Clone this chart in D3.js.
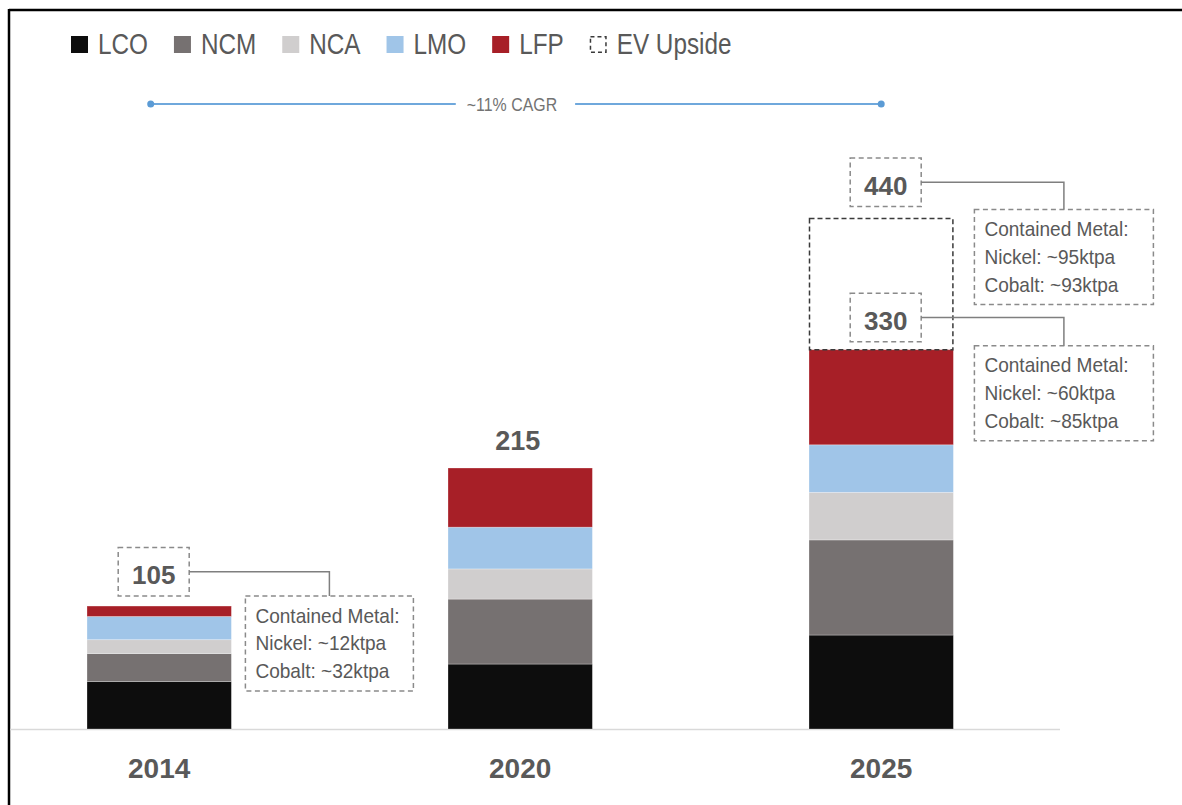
<!DOCTYPE html>
<html>
<head>
<meta charset="utf-8">
<script src="https://cdn.jsdelivr.net/npm/d3@7"></script>
<style>
  html, body { margin: 0; padding: 0; background: #ffffff; }
  svg { display: block; }
</style>
</head>
<body>
<svg id="chart" width="1182" height="805"></svg>
<script>
// ---------- data ----------
const years = ["2014", "2020", "2025"];
const seriesNames = ["LCO", "NCM", "NCA", "LMO", "LFP"];
const LCO = [41, 56, 81];
const NCM = [24, 56, 82];
const NCA = [12, 26, 41];
const LMO = [20, 36, 41];
const LFP = [9, 51, 82];
const evUpside = [0, 0, 113];
const totalLabels = ["105", "215", "330"];
const upsideLabel = "440";
const metal2014 = ["Contained Metal:", "Nickel: ~12ktpa", "Cobalt: ~32ktpa"];
const metal2025 = ["Contained Metal:", "Nickel: ~60ktpa", "Cobalt: ~85ktpa"];
const metalUpside = ["Contained Metal:", "Nickel: ~95ktpa", "Cobalt: ~93ktpa"];
const cagrLabel = "~11% CAGR";
const legendNames = ["LCO", "NCM", "NCA", "LMO", "LFP", "EV Upside"];

const colors = { LCO: "#0d0d0d", NCM: "#767171", NCA: "#d0cece", LMO: "#a0c5e8", LFP: "#a71f27" };
const SANS = "'Liberation Sans', Arial, sans-serif";
const TXT = "#595959";

const svg = d3.select("#chart");
const W = 1182, H = 805;

// condensed text: Liberation Sans squeezed horizontally (Arial Narrow look)
function ntext(parent, x, y, str, size, sx, opts = {}) {
  const g = parent.append("g").attr("transform", `translate(${x},${y}) scale(${sx},1)`);
  const t = g.append("text").attr("x", 0).attr("y", 0)
    .attr("font-family", SANS).attr("font-size", size)
    .attr("fill", opts.fill || TXT)
    .attr("font-weight", opts.weight || "normal")
    .attr("text-anchor", opts.anchor || "start")
    .text(str);
  return t.node().getComputedTextLength() * sx;
}

const seriesVals = { LCO, NCM, NCA, LMO, LFP };
const table = years.map((yr, i) => {
  const row = { year: yr };
  seriesNames.forEach(s => row[s] = seriesVals[s][i]);
  row.upside = evUpside[i];
  return row;
});

const x = d3.scaleBand().domain(years).range([87, 953.4]).paddingInner(0.6).paddingOuter(0);
const y = d3.scaleLinear().domain([0, 440]).range([729, 218.6]);
const bw = x.bandwidth();

// frame (top + left edges)
svg.append("line").attr("x1", 9).attr("x2", W + 5).attr("y1", 10).attr("y2", 10)
  .attr("stroke", "#000").attr("stroke-width", 2.5);
svg.append("line").attr("x1", 9).attr("x2", 9).attr("y1", 9).attr("y2", H + 5)
  .attr("stroke", "#000").attr("stroke-width", 2.5);

// baseline axis
svg.append("line").attr("x1", 10).attr("x2", 1060).attr("y1", y(0) + 0.5).attr("y2", y(0) + 0.5)
  .attr("stroke", "#d9d9d9").attr("stroke-width", 1.5);

// stacked bars
const stacked = d3.stack().keys(seriesNames)(table);
svg.append("g").selectAll("g").data(stacked).join("g")
  .attr("fill", d => colors[d.key])
  .selectAll("rect").data(d => d).join("rect")
  .attr("x", d => x(d.data.year))
  .attr("width", bw)
  .attr("y", d => y(d[1]))
  .attr("height", d => y(d[0]) - y(d[1]))
  .attr("stroke", "#ffffff").attr("stroke-opacity", 0.35).attr("stroke-width", 0.8);

// EV upside dashed block
table.forEach(row => {
  if (!row.upside) return;
  const base = d3.sum(seriesNames, s => row[s]);
  svg.append("rect")
    .attr("x", x(row.year) + 0.5).attr("width", bw - 1)
    .attr("y", y(base + row.upside)).attr("height", y(base) - y(base + row.upside))
    .attr("fill", "none").attr("stroke", "#3a3a3a").attr("stroke-width", 1.5)
    .attr("stroke-dasharray", "5,3");
});

// year labels
svg.append("g").selectAll("text").data(years).join("text")
  .attr("x", d => x(d) + bw / 2).attr("y", 778)
  .attr("text-anchor", "middle")
  .attr("font-family", SANS).attr("font-weight", "bold").attr("font-size", 28)
  .attr("fill", TXT).text(d => d);

// ---------- annotations ----------
function valueBox(cx, bottom, label) {
  const w = 71, h = 48.5;
  const top = bottom - h;
  svg.append("rect").attr("x", cx - w / 2).attr("y", top).attr("width", w).attr("height", h)
    .attr("fill", "none").attr("stroke", "#8a8a8a").attr("stroke-width", 1.5)
    .attr("stroke-dasharray", "5,3.5");
  svg.append("text").attr("x", cx).attr("y", top + 36.5).attr("text-anchor", "middle")
    .attr("font-family", SANS).attr("font-weight", "bold").attr("font-size", 26)
    .attr("fill", TXT).text(label);
  return { left: cx - w / 2, right: cx + w / 2, top, bottom, midY: top + h / 2 };
}
function metalBox(left, top, w, lines) {
  const h = 95;
  svg.append("rect").attr("x", left).attr("y", top).attr("width", w).attr("height", h)
    .attr("fill", "#fff").attr("stroke", "#8a8a8a").attr("stroke-width", 1.5)
    .attr("stroke-dasharray", "5,3.5");
  const g = svg.append("g");
  lines.forEach((ln, i) => ntext(g, left + 10, top + 26.7 + i * 27.6, ln, 20.5, 0.93));
  return { cx: left + w / 2, top };
}
function connector(vb, mb) {
  svg.append("path")
    .attr("d", `M${vb.right},${vb.midY}H${mb.cx}V${mb.top}`)
    .attr("fill", "none").attr("stroke", "#7f7f7f").attr("stroke-width", 1.5);
}

// 2014
{
  const row = table[0];
  const tot = d3.sum(seriesNames, s => row[s]);
  const cx = x(row.year) + bw / 2;
  const vb = valueBox(cx - 5.5, y(tot) - 10, totalLabels[0]);
  const mb = metalBox(x(row.year) + bw + 14, vb.bottom, 168, metal2014);
  connector(vb, mb);
}
// 2020
{
  const row = table[1];
  const tot = d3.sum(seriesNames, s => row[s]);
  svg.append("text").attr("x", x(row.year) + bw / 2 - 2.5).attr("y", y(tot) - 18.5)
    .attr("text-anchor", "middle")
    .attr("font-family", SANS).attr("font-weight", "bold").attr("font-size", 27)
    .attr("fill", TXT).text(totalLabels[1]);
}
// 2025
{
  const row = table[2];
  const tot = d3.sum(seriesNames, s => row[s]);
  const cx = x(row.year) + bw / 2;
  const vbU = valueBox(cx + 4.5, y(tot + row.upside) - 12, upsideLabel);
  const mbU = metalBox(x(row.year) + bw + 21, vbU.bottom + 3, 179, metalUpside);
  connector(vbU, mbU);
  const vb = valueBox(cx + 4.5, y(tot) - 8, totalLabels[2]);
  const mb = metalBox(x(row.year) + bw + 21, vb.bottom + 4, 179, metal2025);
  connector(vb, mb);
}

// CAGR line
{
  const x1 = x("2014") + bw / 2 - 8.5, x2 = x("2025") + bw / 2, cy = 104;
  const g = svg.append("g");
  const mid = (x1 + x2) / 2 - 4;
  const tw = ntext(g, mid, cy + 6.5, cagrLabel, 18.5, 0.86, { anchor: "middle", fill: "#737373" });
  g.append("line").attr("x1", x1).attr("x2", mid - tw / 2 - 11).attr("y1", cy).attr("y2", cy)
    .attr("stroke", "#6fa8dc").attr("stroke-width", 2);
  g.append("line").attr("x1", mid + tw / 2 + 18).attr("x2", x2).attr("y1", cy).attr("y2", cy)
    .attr("stroke", "#6fa8dc").attr("stroke-width", 2);
  g.selectAll("circle").data([x1, x2]).join("circle")
    .attr("cx", d => d).attr("cy", cy).attr("r", 3.5).attr("fill", "#5b9bd5");
}

// legend
{
  const g = svg.append("g");
  let cx = 71;
  const sq = 17, top = 36;
  legendNames.forEach(name => {
    if (name === "EV Upside") {
      g.append("rect").attr("x", cx + 0.75).attr("y", top + 0.75).attr("width", sq - 1.5).attr("height", sq - 1.5)
        .attr("fill", "none").attr("stroke", "#3a3a3a").attr("stroke-width", 1.5).attr("stroke-dasharray", "4,3");
    } else {
      g.append("rect").attr("x", cx).attr("y", top).attr("width", sq).attr("height", sq)
        .attr("fill", colors[name]);
    }
    const tw = ntext(g, cx + sq + 10, top + 17.5, name, 30, 0.81);
    cx = cx + sq + 10 + tw + 26;
  });
}
</script>
</body>
</html>
